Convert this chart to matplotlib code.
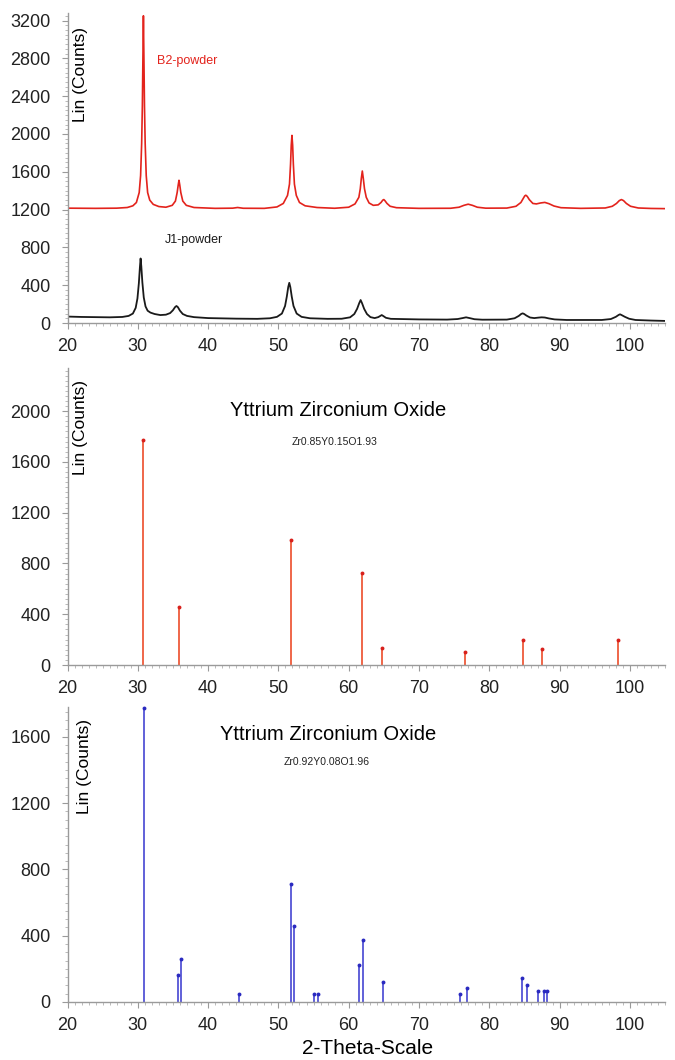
import matplotlib
matplotlib.use("Agg")
import matplotlib.pyplot as plt
from matplotlib.ticker import MultipleLocator

plt.rcParams['font.family'] = ['Liberation Sans', 'DejaVu Sans']

# B2-powder pattern (2-theta, counts)
b2_x = [20, 24, 27, 28.5, 29.3, 29.8, 30.2, 30.4, 30.55, 30.65, 30.72, 30.8, 30.88, 30.95,
        31.05, 31.2, 31.4, 31.7, 32.2, 33, 34, 34.9, 35.35, 35.6, 35.75, 35.86, 35.97, 36.12,
        36.4, 36.9, 38, 41, 43.5, 44.2, 45, 48, 49.8, 50.7, 51.3, 51.58, 51.73, 51.83, 51.93,
        52.03, 52.13, 52.28, 52.55, 53.0, 53.8, 55.5, 58, 60, 60.9, 61.45, 61.65, 61.8, 61.94,
        62.08, 62.25, 62.5, 62.9, 63.5, 64.2, 64.6, 64.85, 65.0, 65.15, 65.45, 65.9, 66.8, 70,
        74.5, 75.7, 76.4, 77.0, 77.6, 78.3, 79.5, 82.5, 83.8, 84.5, 84.85, 85.05, 85.2, 85.4,
        85.7, 86.2, 86.7, 87.3, 87.9, 88.5, 89.2, 90.2, 93, 96.5, 97.5, 98.1, 98.5, 98.8,
        99.1, 99.5, 100.1, 101.2, 103, 105]
b2_y = [1215, 1213, 1215, 1222, 1240, 1275, 1380, 1560, 1900, 2300, 2750, 3250, 2750, 2300,
        1900, 1560, 1380, 1300, 1255, 1232, 1225, 1245, 1290, 1380, 1460, 1510, 1460, 1380,
        1290, 1245, 1222, 1213, 1215, 1222, 1214, 1213, 1228, 1265, 1350, 1470, 1680, 1880, 1985,
        1880, 1680, 1470, 1350, 1275, 1240, 1222, 1214, 1225, 1260, 1330, 1420, 1530, 1608,
        1530, 1420, 1330, 1270, 1245, 1250, 1275, 1300, 1306, 1295, 1265, 1235, 1220, 1213,
        1214, 1225, 1245, 1257, 1245, 1225, 1215, 1216, 1235, 1275, 1320, 1345, 1352, 1340,
        1305, 1265, 1260, 1270, 1276, 1262, 1238, 1220, 1213, 1217, 1235, 1265, 1295, 1306,
        1295, 1265, 1235, 1217, 1212, 1210]

# J1-powder pattern
j1_x = [20, 22, 24, 26, 27.8, 28.7, 29.3, 29.7, 29.95, 30.15, 30.3, 30.4, 30.5, 30.65, 30.85,
        31.1, 31.4, 31.8, 32.4, 33.2, 34, 34.6, 35.0, 35.3, 35.5, 35.7, 36.0, 36.4, 37, 38, 40,
        44, 47, 48.8, 49.8, 50.5, 50.95, 51.2, 51.4, 51.55, 51.7, 51.9, 52.15, 52.6, 53.3, 54.5,
        57, 59, 60.2, 60.8, 61.2, 61.5, 61.7, 61.9, 62.2, 62.6, 63.1, 63.7, 64.2, 64.5, 64.7,
        64.9, 65.3, 66, 70, 74, 75.5, 76.2, 76.7, 77.2, 77.9, 79, 82.5, 83.6, 84.2, 84.55, 84.75,
        84.95, 85.3, 85.8, 86.4, 87.0, 87.45, 87.9, 88.5, 89.3, 91, 96, 97.3, 98.0, 98.4, 98.6,
        98.8, 99.3, 99.9, 100.8, 103, 105]
j1_y = [68, 64, 62, 60, 64, 75, 100, 160, 260, 420, 590, 683, 600, 430, 270,
        175, 130, 110, 95, 84, 88, 105, 135, 168, 180, 168, 130, 95, 75, 62, 52,
        46, 44, 50, 65, 100, 180, 280, 380, 425, 380, 280, 180, 100, 65, 50,
        44, 45, 60, 95, 150, 210, 243, 210, 150, 95, 62, 52, 62, 75, 84,
        75, 55, 44, 38, 36, 42, 52, 60, 52, 40, 35, 36, 50, 75, 96, 102,
        96, 78, 58, 52, 57, 60, 58, 48, 38, 32, 32, 42, 65, 85, 92,
        85, 65, 45, 32, 26, 22]

# reference pattern Zr0.85Y0.15O1.93
ref1_pos = [30.8, 35.9, 51.8, 61.85, 64.8, 76.5, 84.8, 87.5, 98.35]
ref1_int = [1770, 460, 985, 722, 131, 105, 197, 128, 197]

# reference pattern Zr0.92Y0.08O1.96
ref2_pos = [30.9, 35.67, 36.15, 44.4, 51.8, 52.2, 55.0, 55.6, 61.47, 62.1, 64.9,
            75.8, 76.9, 84.7, 85.3, 87.0, 87.8, 88.2]
ref2_int = [1775, 161, 262, 46, 715, 457, 46, 46, 222, 377, 121,
            46, 85, 145, 105, 65, 65, 65]

W, H = 675, 1060
fig = plt.figure(figsize=(W / 100, H / 100), dpi=100)


def px_axes(top, bottom):
    left, right = 67.5, 665
    return fig.add_axes([left / W, 1 - bottom / H, (right - left) / W, (bottom - top) / H])


def style(ax, ymax, ystep, yminor):
    ax.set_xlim(20, 105)
    ax.set_ylim(0, ymax)
    for s in ['top', 'right']:
        ax.spines[s].set_visible(False)
    for s in ['left', 'bottom']:
        ax.spines[s].set_color('#9a9a9a')
        ax.spines[s].set_linewidth(1.0)
    ax.xaxis.set_major_locator(MultipleLocator(10))
    ax.xaxis.set_minor_locator(MultipleLocator(1))
    ax.yaxis.set_major_locator(MultipleLocator(ystep))
    ax.yaxis.set_minor_locator(MultipleLocator(yminor))
    ax.tick_params(which='major', length=4, width=0.8, color='#9a9a9a',
                   labelsize=13, labelcolor='#222222')
    ax.tick_params(which='minor', length=2.5, width=0.6, color='#b0b0b0')
    ax.tick_params(axis='x', pad=7)
    ax.tick_params(axis='y', pad=8)


def ftext(x, y, s, **kw):
    fig.text(x / W, 1 - y / H, s, **kw)


# top: measured patterns
ax1 = px_axes(13, 323)
ax1.plot(b2_x, b2_y, color='#e3231c', lw=1.2)
ax1.plot(j1_x, j1_y, color='#1a1a1a', lw=1.3)
style(ax1, 3280, 400, 50)
ax1.set_yticks(range(0, 3201, 400))
ftext(157, 61, 'B2-powder', color='#e3231c', fontsize=9, va='center')
ftext(165, 240, 'J1-powder', color='#1a1a1a', fontsize=9, va='center')
ftext(81, 75, 'Lin (Counts)', rotation=90, fontsize=12.5, ha='center', va='center')

# middle: Zr0.85Y0.15O1.93 sticks
ax2 = px_axes(368, 665)
ax2.vlines(ref1_pos, 0, ref1_int, color='#ee5a3a', lw=1.3)
ax2.plot(ref1_pos, ref1_int, 'o', ms=2.8, color='#d8201c', mec='none')
style(ax2, 2340, 400, 40)
ax2.set_yticks(range(0, 2001, 400))
ftext(338, 410, 'Yttrium Zirconium Oxide', fontsize=14.5, ha='center', va='center')
ftext(335, 442, 'Zr0.85Y0.15O1.93', fontsize=7.5, ha='center', va='center', color='#222222')
ftext(80, 427, 'Lin (Counts)', rotation=90, fontsize=12.5, ha='center', va='center')

# bottom: Zr0.92Y0.08O1.96 sticks
ax3 = px_axes(707, 1002)
ax3.vlines(ref2_pos, 0, ref2_int, color='#4646d2', lw=1.2)
ax3.plot(ref2_pos, ref2_int, 'o', ms=2.8, color='#2a2ac0', mec='none', clip_on=False)
style(ax3, 1780, 400, 50)
ax3.set_yticks(range(0, 1601, 400))
ftext(328, 735, 'Yttrium Zirconium Oxide', fontsize=14.5, ha='center', va='center')
ftext(327, 762, 'Zr0.92Y0.08O1.96', fontsize=7.5, ha='center', va='center', color='#222222')
ftext(84, 767, 'Lin (Counts)', rotation=90, fontsize=12.5, ha='center', va='center')
ftext(368, 1048, '2-Theta-Scale', fontsize=15, ha='center', va='center')

fig.savefig('out.png', dpi=100)
